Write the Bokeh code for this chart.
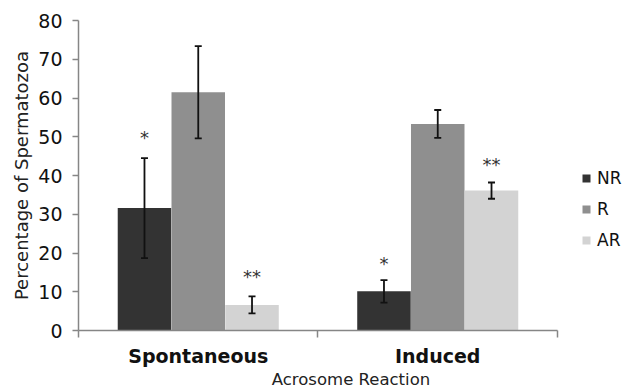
from bokeh.plotting import figure
from bokeh.models import (ColumnDataSource, Whisker, TeeHead, FixedTicker, Range1d,
                          Legend, LegendItem, LinearAxis)
from bokeh.core.properties import value
from bokeh.embed import file_html
from bokeh.resources import INLINE

categories = ["Spontaneous", "Induced"]
series = ["NR", "R", "AR"]
colors = ["#333333", "#8f8f8f", "#d3d3d3"]
means = {
    "NR": [31.6, 10.1],
    "R": [61.5, 53.3],
    "AR": [6.6, 36.1],
}
errors = {
    "NR": [12.9, 2.9],
    "R": [11.9, 3.6],
    "AR": [2.2, 2.1],
}
stars = {
    "NR": ["*", "*"],
    "R": ["", ""],
    "AR": ["**", "**"],
}
star_y = {
    "NR": [49.7, 17.2],
    "R": [0, 0],
    "AR": [14.0, 42.8],
}
y_ticks = [0, 10, 20, 30, 40, 50, 60, 70, 80]
x_title = "Acrosome Reaction"
y_title = "Percentage of Spermatozoa"

FONT = "DejaVu Sans"
offsets = [-0.2245, 0.0, 0.2245]
bar_w = 0.2234

p = figure(width=623, height=391, output_backend="svg", toolbar_location=None,
           x_range=Range1d(0, 2.2756), y_range=Range1d(0, 80),
           x_axis_type=None, y_axis_type=None,
           min_border_left=78, min_border_right=0, min_border_top=20, min_border_bottom=61)
p.outline_line_color = None
p.xgrid.visible = False
p.ygrid.visible = False

items = []
for s, off, col in zip(series, offsets, colors):
    xs = [i + 0.5 + off for i in range(len(categories))]
    m = means[s]
    e = errors[s]
    src = ColumnDataSource(dict(x=xs, top=m,
                                lower=[a - b for a, b in zip(m, e)],
                                upper=[a + b for a, b in zip(m, e)],
                                star=stars[s], sy=star_y[s]))
    r = p.vbar(x="x", top="top", width=bar_w, bottom=0, source=src,
               fill_color=col, line_color=None)
    items.append(LegendItem(label=s, renderers=[r]))
    w = Whisker(base="x", lower="lower", upper="upper", source=src, level="overlay",
                line_color="#111111", line_width=1.8,
                upper_head=TeeHead(size=7, line_color="#111111", line_width=1.8),
                lower_head=TeeHead(size=7, line_color="#111111", line_width=1.8))
    p.add_layout(w)
    p.text(x="x", y="sy", text="star", source=src, text_align="center",
           text_baseline="middle", text_font_size="18px", text_color="#333333",
           text_font=value(FONT))

yax = LinearAxis(ticker=FixedTicker(ticks=y_ticks, minor_ticks=[]))
yax.axis_label = y_title
yax.axis_label_text_font = FONT
yax.axis_label_text_font_size = "18px"
yax.axis_label_text_font_style = "normal"
yax.axis_label_text_color = "#222222"
yax.axis_label_standoff = 3
yax.major_label_text_font = FONT
yax.major_label_text_font_size = "19px"
yax.major_label_text_color = "#111111"
yax.major_label_standoff = 10
yax.axis_line_color = "#868686"
yax.axis_line_width = 1.5
yax.major_tick_line_color = "#868686"
yax.major_tick_line_width = 1.5
yax.major_tick_out = 6
yax.major_tick_in = 0
yax.bounds = (0, 80)
p.add_layout(yax, "left")

xax = LinearAxis(ticker=FixedTicker(ticks=[0.5, 1.5], minor_ticks=[0, 1, 2]))
xax.major_label_overrides = {0.5: categories[0], 1.5: categories[1]}
xax.bounds = (0, 2)
xax.major_tick_out = 0
xax.major_tick_in = 0
xax.minor_tick_out = 7
xax.minor_tick_in = 0
xax.minor_tick_line_color = "#868686"
xax.minor_tick_line_width = 1.5
xax.axis_line_color = "#868686"
xax.axis_line_width = 1.5
xax.major_label_text_font = FONT
xax.major_label_text_font_style = "bold"
xax.major_label_text_font_size = "19px"
xax.major_label_text_color = "#111111"
xax.major_label_standoff = 7
xax.axis_label = x_title
xax.axis_label_text_font = FONT
xax.axis_label_text_font_size = "16.5px"
xax.axis_label_text_font_style = "normal"
xax.axis_label_text_color = "#222222"
xax.axis_label_standoff = 0
p.add_layout(xax, "below")

legend = Legend(items=items, location=(503, 80), border_line_color=None,
                background_fill_alpha=0, padding=0, spacing=10,
                glyph_width=10, glyph_height=10, label_height=21,
                label_standoff=6, label_text_font=FONT,
                label_text_font_size="17px", label_text_color="#111111")
p.add_layout(legend)

open("out.html", "w").write(file_html(p, INLINE))
